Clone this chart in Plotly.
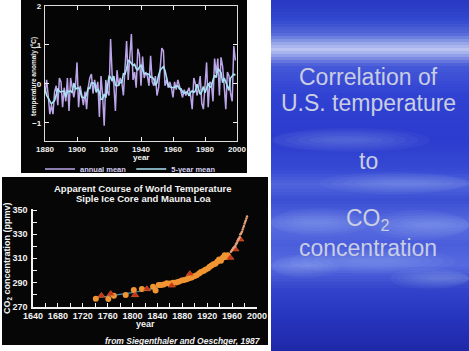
import plotly.graph_objects as go

W, H = 469, 351

# ---------------- data: U.S. temperature anomaly ----------------
temp_years = list(range(1880, 2000))
annual_mean = [
    -0.25, 0.10, -0.30, -0.78, -0.55, -0.78, -0.20, -0.05, -0.55, 0.15,
    0.05, -0.60, -0.10, -0.45, 0.15, -0.70, 0.15, -0.15, -0.35, -0.10,
    0.55, -0.60, -0.05, -0.30, -0.55, -0.20, -0.65, -0.10, 0.15, 0.25,
    -0.25, 0.10, -0.15, 0.05, -0.85, 0.20, -0.30, -1.08, 0.10, -0.20,
    -0.30, 1.15, 0.20, 0.00, -0.70, 0.35, -0.05, 0.15, 0.05, -0.30,
    0.30, 1.10, 0.10, 0.75, 1.28, 0.10, 0.30, -0.10, 0.90, 0.75,
    -0.05, 0.70, 0.15, 0.30, 0.20, -0.05, 0.72, 0.05, -0.05, 0.20,
    -0.30, -0.10, 0.40, 0.92, 0.85, -0.05, 0.10, -0.10, 0.05, -0.10,
    -0.35, 0.05, -0.15, 0.10, -0.05, -0.20, -0.35, -0.15, -0.30, -0.20,
    -0.10, -0.30, -0.65, 0.15, 0.00, -0.30, -0.10, 0.20, -0.50, -0.65,
    0.05, 0.55, -0.60, 0.05, 0.00, -0.45, 0.65, 0.25, 0.65, -0.30,
    0.68, 0.45, -0.05, -0.65, 0.30, 0.20, -0.25, -0.45, 0.97, 0.60,
]
five_year_mean = [
    -0.10, -0.30, -0.36, -0.46, -0.52, -0.47, -0.43, -0.29, -0.12, -0.20,
    -0.21, -0.19, -0.19, -0.34, -0.19, -0.20, -0.18, -0.23, 0.02, -0.13,
    -0.11, -0.10, -0.19, -0.34, -0.35, -0.36, -0.27, -0.11, -0.12, 0.03,
    0.02, 0.00, -0.22, -0.13, -0.21, -0.40, -0.39, -0.26, -0.36, -0.07,
    0.19, 0.17, 0.07, 0.20, -0.04, -0.05, -0.04, 0.04, 0.03, 0.26,
    0.25, 0.39, 0.60, 0.58, 0.51, 0.47, 0.50, 0.39, 0.36, 0.44,
    0.49, 0.37, 0.26, 0.26, 0.26, 0.24, 0.17, 0.17, 0.12, -0.04,
    0.03, 0.22, 0.35, 0.40, 0.44, 0.34, 0.17, -0.02, -0.08, -0.09,
    -0.10, -0.09, -0.08, -0.05, -0.13, -0.13, -0.21, -0.24, -0.22, -0.21,
    -0.31, -0.22, -0.18, -0.22, -0.18, -0.01, -0.14, -0.27, -0.20, -0.07,
    -0.23, -0.12, 0.01, -0.09, -0.07, 0.10, 0.22, 0.16, 0.39, 0.35,
    0.29, 0.03, 0.15, 0.05, -0.09, -0.17, 0.15, 0.21, 0.25, 0.22,
]
temp_xticks = [1880, 1900, 1920, 1940, 1960, 1980, 2000]
temp_yticks = [-1, 0, 1, 2]

# ---------------- data: CO2 (Siple ice core / Mauna Loa) ----------------
ice_years = [1741, 1761, 1770, 1789, 1802, 1815, 1833, 1837, 1842, 1846,
             1850, 1855, 1860, 1865, 1870, 1874, 1879, 1883, 1887, 1891,
             1895, 1899, 1903, 1907, 1910, 1914, 1917, 1921, 1924, 1927,
             1930, 1933, 1936, 1939, 1942, 1945, 1948, 1950, 1953]
ice_ppm = [276.5, 276.3, 279.0, 279.5, 283.7, 284.5, 286.4, 283.2, 287.8, 287.8,
           288.3, 289.2, 289.0, 289.6, 290.0, 290.6, 291.5, 292.0, 292.6, 293.4,
           294.0, 295.0, 296.0, 297.3, 298.5, 299.5, 300.5, 301.5, 303.0, 304.0,
           305.0, 305.5, 307.0, 309.0, 308.0, 310.5, 312.5, 311.0, 312.5]
tri_years = [1750, 1765, 1804, 1823, 1863, 1892, 1957, 1965, 1973]
tri_ppm = [279.0, 280.5, 279.5, 284.5, 287.5, 297.0, 310.5, 317.5, 325.7]
mlo_years = list(range(1958, 1985))
mlo_ppm = [315.3, 316.0, 316.9, 317.6, 318.5, 319.0, 319.6, 320.0, 321.4, 322.2,
           323.0, 324.6, 325.7, 326.3, 327.5, 329.7, 330.2, 331.1, 332.1, 333.8,
           335.4, 336.8, 338.7, 340.1, 341.4, 343.0, 344.6]
fit_years = [1740, 1760, 1780, 1800, 1820, 1840, 1860, 1880, 1900, 1920, 1940, 1955]
fit_ppm = [277.5, 278.5, 280.0, 281.5, 283.5, 286.0, 288.5, 292.0, 296.0, 301.5, 308.0, 313.0]
co2_xticks = [1640, 1680, 1720, 1760, 1800, 1840, 1880, 1920, 1960, 2000]
co2_yticks = [270, 290, 310, 330, 350]

# ---------------- helpers ----------------
def px(x):
    return x / W

def py(y):
    return 1 - y / H

FONT = "Liberation Sans, Arial, sans-serif"
SANS = "Liberation Sans, Arial, sans-serif"
WHITE = "#f2f2f2"

fig = go.Figure()

# top chart
fig.add_trace(go.Scatter(x=temp_years, y=annual_mean, mode="lines", name="annual mean",
                         line=dict(color="#bba4e8", width=1.5), xaxis="x", yaxis="y"))
fig.add_trace(go.Scatter(x=temp_years, y=five_year_mean, mode="lines", name="5-year mean",
                         line=dict(color="#a9e2f4", width=1.6), xaxis="x", yaxis="y"))

# bottom chart
fig.add_trace(go.Scatter(x=fit_years, y=fit_ppm, mode="lines", showlegend=False,
                         line=dict(color="#3f8fb4", width=1.2, shape="spline"),
                         xaxis="x2", yaxis="y2"))
fig.add_trace(go.Scatter(x=ice_years, y=ice_ppm, mode="markers", showlegend=False,
                         marker=dict(symbol="circle", size=6, color="#f19532",
                                     line=dict(width=0)), xaxis="x2", yaxis="y2"))
fig.add_trace(go.Scatter(x=tri_years, y=tri_ppm, mode="markers", showlegend=False,
                         marker=dict(symbol="triangle-up", size=6.5, color="#c8301c",
                                     line=dict(color="#e0702a", width=0.6)),
                         xaxis="x2", yaxis="y2"))
fig.add_trace(go.Scatter(x=mlo_years, y=mlo_ppm, mode="markers", showlegend=False,
                         marker=dict(symbol="circle", size=2.4, color="#e2a07a"),
                         xaxis="x2", yaxis="y2"))

shapes = []
# black panels
shapes.append(dict(type="rect", xref="paper", yref="paper", x0=px(21), x1=px(247),
                   y0=py(173), y1=py(0), fillcolor="#050505", line=dict(width=0), layer="below"))
shapes.append(dict(type="rect", xref="paper", yref="paper", x0=px(2), x1=px(268),
                   y0=py(345), y1=py(177), fillcolor="#060606", line=dict(width=0), layer="below"))

# blue slide background (decoration)
stops = [(0, (40, 56, 194)), (20, (50, 72, 206)), (34, (85, 105, 217)), (44, (155, 170, 234)),
         (50, (188, 198, 242)), (56, (140, 155, 230)), (66, (68, 88, 216)), (95, (48, 66, 210)),
         (140, (44, 60, 206)), (170, (54, 74, 212)), (185, (80, 100, 220)), (200, (58, 78, 212)),
         (225, (88, 108, 224)), (245, (74, 94, 220)), (265, (86, 106, 224)), (290, (50, 66, 202)),
         (320, (38, 52, 188)), (351, (30, 40, 168))]

def col_at(y):
    for (y0, c0), (y1, c1) in zip(stops[:-1], stops[1:]):
        if y0 <= y <= y1:
            t = (y - y0) / (y1 - y0)
            return tuple(int(round(a + (b - a) * t)) for a, b in zip(c0, c1))
    return stops[-1][1]

step = 3
for y in range(0, H, step):
    r, g, b = col_at(y + step / 2)
    shapes.append(dict(type="rect", xref="paper", yref="paper", x0=px(271), x1=1,
                       y0=py(min(y + step, H)), y1=py(y),
                       fillcolor=f"rgb({r},{g},{b})", line=dict(width=0), layer="below"))

streaks = [(320, 490, 172, 194), (262, 370, 208, 236), (370, 490, 210, 240),
           (290, 455, 248, 274), (390, 490, 268, 289), (262, 340, 254, 278),
           (262, 430, 128, 152)]
for x0, x1, y0, y1 in streaks:
    for k in range(6):
        dx = (x1 - x0) * 0.07 * k
        dy = (y1 - y0) * 0.08 * k
        shapes.append(dict(type="circle", xref="paper", yref="paper",
                           x0=px(max(x0 + dx, 271)), x1=px(min(x1 - dx, W)),
                           y0=py(y1 - dy), y1=py(y0 + dy),
                           fillcolor="rgba(215,225,255,0.045)", line=dict(width=0), layer="below"))

ann = []
def text(x, y, s, size, color=WHITE, family=FONT, bold=True, angle=0, xanchor="center", italic=False):
    ann.append(dict(x=px(x), y=py(y), xref="paper", yref="paper", text=s, showarrow=False,
                    xanchor=xanchor, yanchor="middle", textangle=angle,
                    font=dict(size=size, color=color, family=family,
                              weight="bold" if bold else "normal",
                              style="italic" if italic else "normal")))

# top chart labels
text(141, 157, "year", 8)
text(34, 77, "temperature anomaly (°C)", 6.5, angle=-90)
# bottom chart labels
text(143, 188, "Apparent Course of World Temperature", 9.5)
text(143, 199, "Siple Ice Core and Mauna Loa", 9.5)
text(145, 324, "year", 9)
text(7, 258, "CO<sub>2</sub> concentration (ppmv)", 9, angle=-90)
text(263, 341, "from Siegenthaler and Oeschger, 1987", 8.5, xanchor="right", italic=True)
# slide text
TC = "#c9cee2"
text(368, 77, "Correlation of", 23, color=TC, family=SANS, bold=False)
text(368, 103, "U.S. temperature", 23, color=TC, family=SANS, bold=False)
text(368, 161, "to", 23, color=TC, family=SANS, bold=False)
text(368, 219, "CO<sub>2</sub>", 23, color=TC, family=SANS, bold=False)
text(368, 248, "concentration", 23, color=TC, family=SANS, bold=False)

tick_top = dict(size=8, color=WHITE, family=FONT, weight="bold")
tick_bot = dict(size=9, color=WHITE, family=FONT, weight="bold")

fig.update_layout(
    width=W, height=H, margin=dict(l=0, r=0, t=0, b=0),
    paper_bgcolor="white", plot_bgcolor="#050505",
    shapes=shapes, annotations=ann,
    showlegend=True,
    legend=dict(orientation="h", x=px(40), y=py(169), xanchor="left", yanchor="middle",
                bgcolor="rgba(0,0,0,0)", font=dict(size=7.5, color="#d6cdf0", family=FONT, weight="bold"),
                itemwidth=30, tracegroupgap=0),
    xaxis=dict(domain=[px(45), px(237)], range=[1880, 2000], tickvals=temp_xticks,
               ticks="inside", ticklen=4, tickcolor=WHITE, tickwidth=1,
               showline=True, linecolor="#dcdcdc", linewidth=1.2, mirror="ticks",
               showgrid=False, zeroline=False, tickfont=tick_top, automargin=False,
               anchor="y"),
    yaxis=dict(domain=[py(141), py(6)], range=[-1.47, 2.0], tickvals=temp_yticks,
               ticks="inside", ticklen=4, tickcolor=WHITE, tickwidth=1,
               showline=True, linecolor="#dcdcdc", linewidth=1.2, mirror="ticks",
               showgrid=False, zeroline=False, tickfont=tick_top, automargin=False,
               anchor="x", ticklabelstandoff=1),
    xaxis2=dict(domain=[px(33), px(257)], range=[1640, 2000], tickvals=co2_xticks,
                ticks="inside", ticklen=4, tickcolor=WHITE, tickwidth=1.2,
                minor=dict(dtick=20, tick0=1640, ticks="inside", ticklen=4, tickcolor=WHITE),
                showline=True, linecolor=WHITE, linewidth=1.5, mirror=False,
                showgrid=False, zeroline=False, tickfont=tick_bot, automargin=False,
                anchor="y2"),
    yaxis2=dict(domain=[py(306.5), py(208.8)], range=[270, 351], tickvals=co2_yticks,
                ticks="inside", ticklen=4, tickcolor=WHITE, tickwidth=1.2,
                minor=dict(dtick=10, tick0=270, ticks="inside", ticklen=4, tickcolor=WHITE),
                showline=True, linecolor=WHITE, linewidth=1.5, mirror=False,
                showgrid=False, zeroline=False, tickfont=tick_bot, automargin=False,
                anchor="x2", ticklabelstandoff=2),
)

fig.write_html("out.html")
